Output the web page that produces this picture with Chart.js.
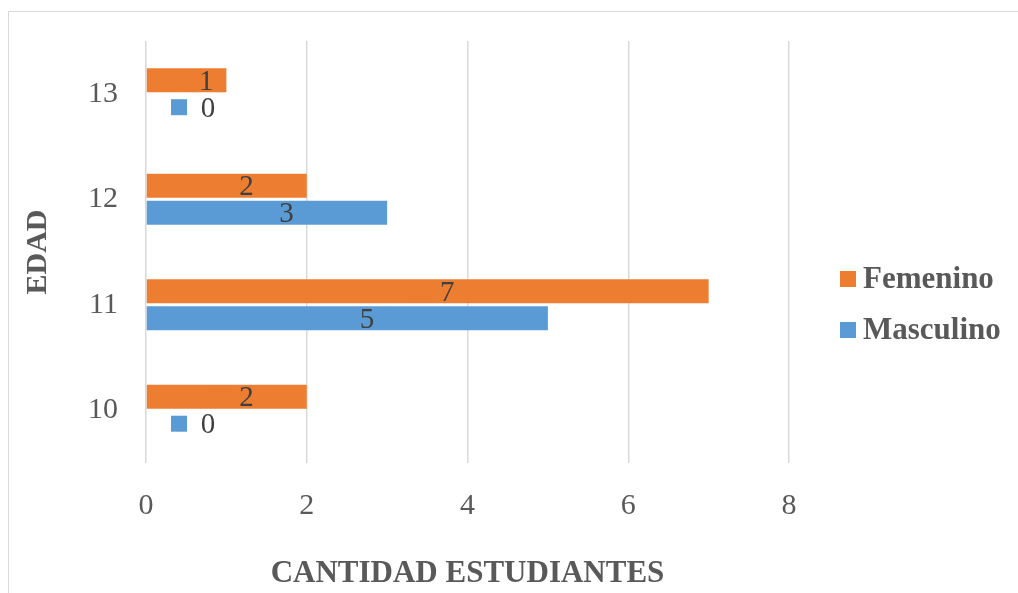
<!DOCTYPE html>
<html>
<head>
<meta charset="utf-8">
<script src="https://cdn.jsdelivr.net/npm/chart.js@4"></script>
<style>
    body { margin: 0; background: #fff; }
    #frame { position: absolute; left: 8px; top: 11px; width: 1020px; height: 600px; border: 1.5px solid #d9d9d9; box-sizing: border-box; }
    #wrap { position: absolute; left: 0; top: 0; width: 1018px; height: 593px; }
</style>
</head>
<body>
<div id="frame"></div>
<div id="wrap"><canvas id="canvasID"></canvas></div>
<script>
// data
const edades = ['13', '12', '11', '10'];
const femenino = [1, 2, 7, 2];
const masculino = [0, 3, 5, 0];
const xTicks = [0, 2, 4, 6, 8];

const colorFem = '#ed7d31';
const colorMas = '#5b9bd5';
const serif = '"Liberation Serif", "Times New Roman", serif';

// labels with a small legend key, like the Excel data labels
const barLabels = {
    id: 'barLabels',
    afterDatasetsDraw: function (chart) {
        let ctx = chart.ctx;
        let xScale = chart.scales.x;
        ctx.save();
        ctx.font = '29px ' + serif;
        ctx.textAlign = 'center';
        ctx.textBaseline = 'middle';
        chart.data.datasets.forEach(function (ds, di) {
            let meta = chart.getDatasetMeta(di);
            meta.data.forEach(function (bar, i) {
                let v = ds.data[i];
                let base = xScale.getPixelForValue(0);
                let anchor = v > 0 ? (base + bar.x) / 2 : base + 42;
                let tx = anchor + 20;
                ctx.fillStyle = ds.backgroundColor;
                ctx.fillRect(tx - 37, bar.y - 8, 16, 16);
                ctx.fillStyle = '#404040';
                ctx.fillText(String(v), tx, bar.y + 2);
            });
        });
        ctx.restore();
    }
};

const sideLegend = {
    id: 'sideLegend',
    afterDraw: function (chart) {
        let ctx = chart.ctx;
        let rows = [{ ds: chart.data.datasets[0], y: 279 }, { ds: chart.data.datasets[1], y: 330 }];
        ctx.save();
        ctx.font = 'bold 31px ' + serif;
        ctx.textAlign = 'left';
        ctx.textBaseline = 'middle';
        rows.forEach(function (r) {
            ctx.fillStyle = r.ds.backgroundColor;
            ctx.fillRect(840, r.y - 8, 16, 16);
            ctx.fillStyle = '#595959';
            ctx.fillText(r.ds.label, 863, r.y + 1);
        });
        ctx.restore();
    }
};

let ctx = document.getElementById('canvasID').getContext('2d');
let myChart = new Chart(ctx, {
    type: 'bar',
    data: {
        labels: edades,
        datasets: [{
            label: 'Femenino',
            data: femenino,
            backgroundColor: colorFem,
            categoryPercentage: 0.51,
            barPercentage: 0.89
        }, {
            label: 'Masculino',
            data: masculino,
            backgroundColor: colorMas,
            categoryPercentage: 0.51,
            barPercentage: 0.89
        }]
    },
    options: {
        indexAxis: 'y',
        responsive: true,
        maintainAspectRatio: false,
        animation: false,
        layout: {
            padding: { top: 41, right: 229, bottom: 0, left: 0 }
        },
        plugins: {
            legend: { display: false },
            tooltip: { enabled: false }
        },
        scales: {
            x: {
                min: 0,
                max: 8,
                afterBuildTicks: function (scale) {
                    scale.ticks = xTicks.map(function (v) { return { value: v }; });
                },
                afterFit: function (scale) {
                    scale.height = 130;
                    scale.paddingLeft = 0;
                    scale.paddingRight = 0;
                },
                grid: { color: '#d9d9d9', lineWidth: 1.5, drawTicks: false },
                border: { display: false },
                ticks: {
                    padding: 25,
                    color: '#595959',
                    font: { family: serif, size: 30 }
                },
                title: {
                    display: true,
                    text: 'CANTIDAD ESTUDIANTES',
                    color: '#595959',
                    font: { family: serif, size: 31, weight: 'bold' },
                    padding: { top: 0, bottom: 0 }
                }
            },
            y: {
                afterFit: function (scale) {
                    // fixed axis width, and no extra label padding at top/bottom
                    scale.width = 146;
                    scale.paddingTop = 0;
                    scale.paddingBottom = 0;
                },
                grid: { display: false, drawTicks: false },
                border: { display: false },
                ticks: {
                    padding: 28,
                    color: '#595959',
                    font: { family: serif, size: 30 }
                },
                title: {
                    display: true,
                    text: 'EDAD',
                    color: '#595959',
                    font: { family: serif, size: 30, weight: 'bold' },
                    padding: { top: 20, bottom: 0 }
                }
            }
        }
    },
    plugins: [barLabels, sideLegend]
});
</script>
</body>
</html>
